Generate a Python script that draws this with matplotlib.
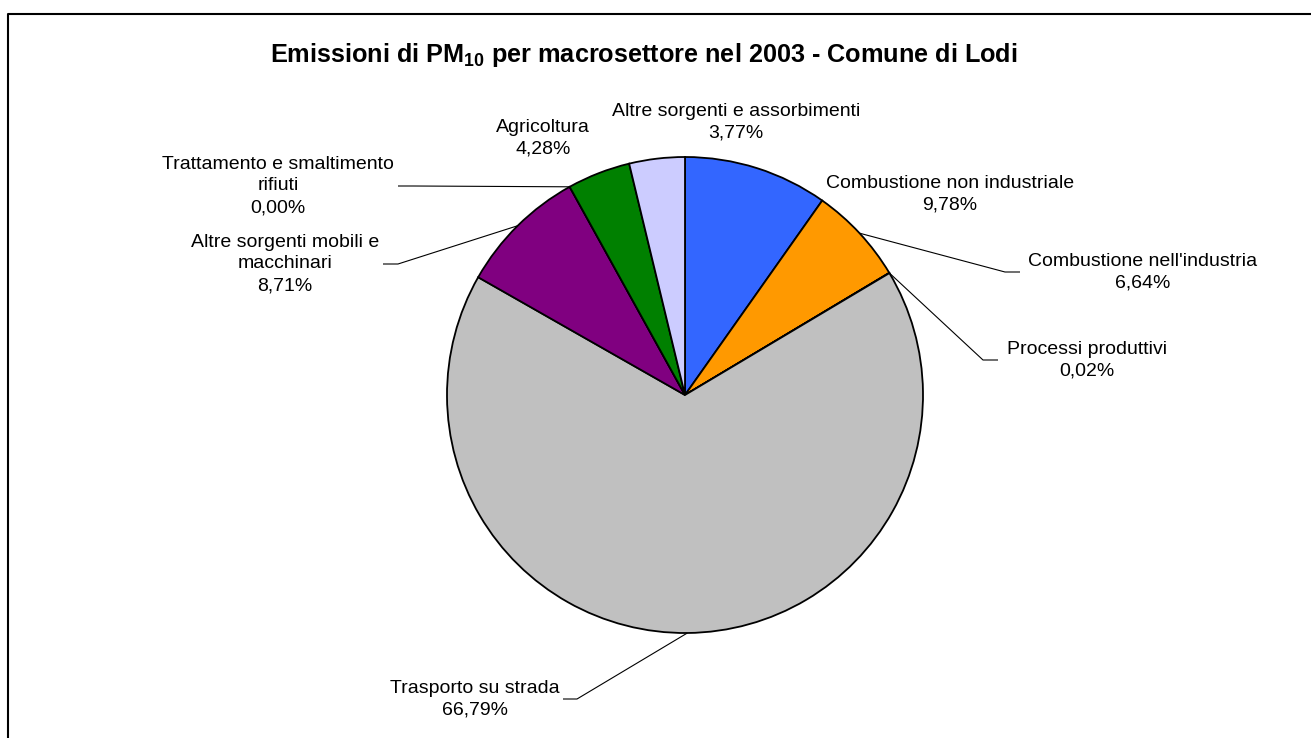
import numpy as np
import matplotlib
matplotlib.use("Agg")
import matplotlib.pyplot as plt

plt.rcParams['font.family'] = ['Liberation Sans', 'DejaVu Sans']
plt.rcParams['mathtext.fontset'] = 'custom'
plt.rcParams['mathtext.rm'] = 'Liberation Sans'
plt.rcParams['mathtext.bf'] = 'Liberation Sans:bold'

# ---- data ----
categories = [
    "Combustione non industriale",
    "Combustione nell'industria",
    "Processi produttivi",
    "Trasporto su strada",
    "Altre sorgenti mobili e\nmacchinari",
    "Trattamento e smaltimento\nrifiuti",
    "Agricoltura",
    "Altre sorgenti e assorbimenti",
]
values = [9.78, 6.64, 0.02, 66.79, 8.71, 0.00, 4.28, 3.77]
colors = ["#3366FF", "#FF9900", "#FFFF99", "#C0C0C0", "#800080", "#993366", "#008000", "#CCCCFF"]
title = r"Emissioni di PM$\mathbf{_{10}}$ per macrosettore nel 2003 - Comune di Lodi"

# ---- layout (pixel coordinates, y measured from top) ----
W, H = 1311, 738
center_px = (685, 395)
radius_px = 238
# text centre, leader end x (None = no leader), elbow x
label_layout = [
    ((950, 194), None, None),
    ((1143, 272), 1020, 1005),
    ((1087, 360), 998, 983),
    ((475, 699), 563, 577),
    ((285, 264), 383, 398),
    ((278, 186), 398, 413),
    ((543, 138), None, None),
    ((736, 122), None, None),
]

def Y(y):
    return H - y

fig = plt.figure(figsize=(W / 100, H / 100), dpi=100)
ax = fig.add_axes([0, 0, 1, 1])

cx, cy = center_px[0], Y(center_px[1])
wedges, _ = ax.pie(values, colors=colors, startangle=90, counterclock=False,
                   center=(cx, cy), radius=radius_px,
                   wedgeprops=dict(edgecolor="black", linewidth=1.3))

ax.set_xlim(0, W)
ax.set_ylim(0, H)
ax.set_aspect('auto')
ax.axis('off')

for w, name, v, (pos, endx, elbx) in zip(wedges, categories, values, label_layout):
    txt = name + "\n" + f"{v:.2f}".replace('.', ',') + "%"
    tx, ty = pos[0], Y(pos[1])
    ax.text(tx, ty, txt, ha='center', va='center', fontsize=14,
            linespacing=1.36, color='black')
    if endx is not None:
        th = np.deg2rad((w.theta1 + w.theta2) / 2)
        ax0 = cx + radius_px * np.cos(th)
        ay0 = cy + radius_px * np.sin(th)
        ax.plot([ax0, elbx, endx], [ay0, ty, ty], color='black', lw=0.8,
                solid_capstyle='butt')

ax.text(644, Y(55), title, ha='center', va='center', fontsize=18.2,
        fontweight='bold')

# outer frame
ax.plot([8, 8, W], [0, Y(14), Y(14)], color='black', lw=1.5, clip_on=False)

fig.savefig("out.png", dpi=100)
